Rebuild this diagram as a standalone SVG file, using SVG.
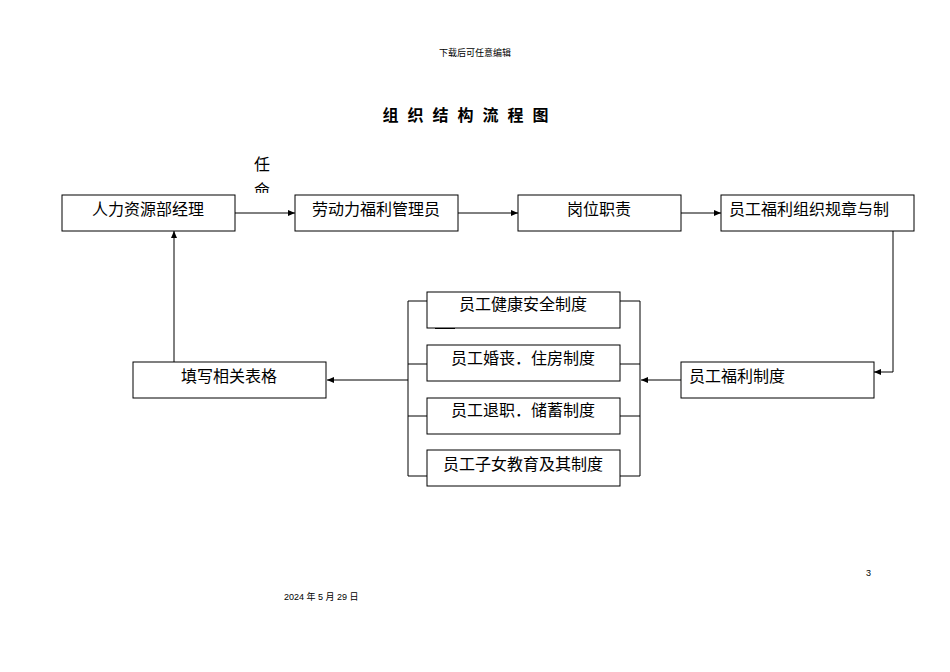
<svg xmlns="http://www.w3.org/2000/svg" width="950" height="672" viewBox="0 0 950 672">
<style>
text{font-family:"Liberation Sans","Noto Sans CJK SC",sans-serif;fill:#000}
.b{fill:#fff;stroke:#000;stroke-width:1}
.t{font-size:16px;text-anchor:middle}
.l{fill:none;stroke:#000;stroke-width:1}
</style>
<defs><marker id="a" markerWidth="8" markerHeight="8" refX="7" refY="4" orient="auto" markerUnits="userSpaceOnUse"><path d="M0,1 L7,4 L0,7z" fill="#000"/></marker></defs>
<rect width="950" height="672" fill="#fff"/>
<text x="475" y="56" font-size="9" text-anchor="middle">下载后可任意编辑</text>
<text x="470" y="121" font-size="16" font-weight="bold" text-anchor="middle" letter-spacing="9">组织结构流程图</text>
<text x="262" y="170" font-size="16" text-anchor="middle">任</text>
<text x="262" y="196" font-size="16" text-anchor="middle" clip-path="url(#c)">命</text>
<clipPath id="c"><rect x="250" y="180" width="30" height="13"/></clipPath>
<g id="n1"><rect class="b" x="62" y="195" width="173" height="36"/><text class="t" x="148" y="215">人力资源部经理</text></g>
<g id="n2"><rect class="b" x="295" y="195" width="163" height="36"/><text class="t" x="376" y="215">劳动力福利管理员</text></g>
<g id="n3"><rect class="b" x="518" y="195" width="163" height="36"/><text class="t" x="599" y="215">岗位职责</text></g>
<g id="n4"><rect class="b" x="721" y="195" width="193" height="36"/><text x="729" y="215" font-size="16">员工福利组织规章与制</text></g>
<g id="n5"><rect class="b" x="681" y="362" width="193" height="36"/><text x="689" y="382" font-size="16">员工福利制度</text></g>
<g id="n6"><rect class="b" x="133" y="362" width="193" height="36"/><text class="t" x="229" y="382">填写相关表格</text></g>
<g id="n7"><rect class="b" x="427" y="292" width="193" height="36"/><text class="t" x="523" y="310">员工健康安全制度</text><line class="l" x1="435" y1="328.5" x2="455" y2="328.5"/></g>
<g id="n8"><rect class="b" x="427" y="345" width="193" height="36"/><text class="t" x="523" y="364">员工婚丧．住房制度</text></g>
<g id="n9"><rect class="b" x="427" y="398" width="193" height="36"/><text class="t" x="523" y="416">员工退职．储蓄制度</text></g>
<g id="n10"><rect class="b" x="427" y="450" width="193" height="36"/><text class="t" x="523" y="470">员工子女教育及其制度</text></g>
<g id="edges">
<line class="l" x1="235" y1="213" x2="295" y2="213" marker-end="url(#a)"/>
<line class="l" x1="458" y1="213" x2="518" y2="213" marker-end="url(#a)"/>
<line class="l" x1="681" y1="213" x2="721" y2="213" marker-end="url(#a)"/>
<polyline class="l" points="893,231 893,372 874,372" marker-end="url(#a)"/>
<line class="l" x1="681" y1="380" x2="641" y2="380" marker-end="url(#a)"/>
<polyline class="l" points="427,301 408,301 408,476 427,476"/>
<line class="l" x1="408" y1="364" x2="427" y2="364"/>
<line class="l" x1="408" y1="416" x2="427" y2="416"/>
<polyline class="l" points="620,301 640,301 640,476 620,476"/>
<line class="l" x1="620" y1="364" x2="640" y2="364"/>
<line class="l" x1="620" y1="416" x2="640" y2="416"/>
<line class="l" x1="408" y1="380" x2="327" y2="380" marker-end="url(#a)"/>
<line class="l" x1="174" y1="362" x2="174" y2="231" marker-end="url(#a)"/>
</g>
<text x="866" y="576" font-size="9">3</text>
<text x="284" y="600" font-size="9">2024 年 5 月 29 日</text>
</svg>
